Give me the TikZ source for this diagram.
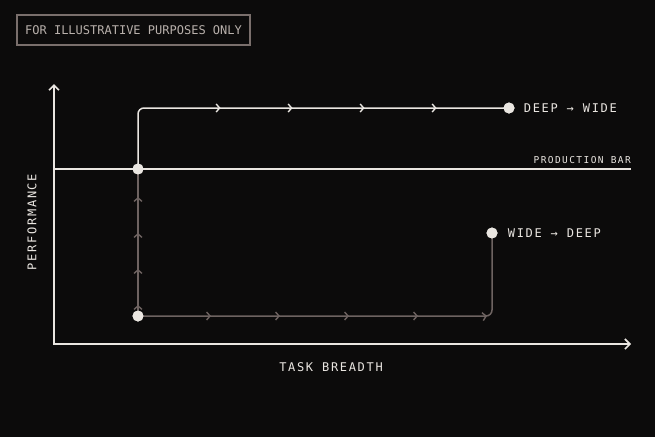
\documentclass[tikz,border=0pt]{standalone}
\usepackage{fontspec}
\setmonofont{DejaVu Sans Mono}
\newfontfamily\lblfont[LetterSpace=14]{DejaVu Sans Mono}
\newfontfamily\smallfont[LetterSpace=15]{DejaVu Sans Mono}
\newfontfamily\boxfont{DejaVu Sans Mono}
\usetikzlibrary{arrows.meta,decorations.markings}
\definecolor{bg}{HTML}{0C0B0B}
\definecolor{ink}{HTML}{EAE6E1}
\definecolor{dim}{HTML}{6E6361}
\definecolor{boxline}{HTML}{7A6F6C}
\definecolor{boxtext}{HTML}{B9B1AC}
\begin{document}
\begin{tikzpicture}[x=1pt,y=-1pt,
  axis/.style={draw=ink,line width=1.8pt,{Straight Barb[length=5pt,width=10pt,line width=1.6pt]}-{Straight Barb[length=5pt,width=10pt,line width=1.6pt]}},
  barline/.style={draw=ink,line width=1.4pt},
  dot/.style={circle,fill=ink,minimum size=11pt,inner sep=0pt},
  lbl/.style={text=ink,font=\lblfont\fontsize{12}{14}\selectfont,inner sep=0pt},
  lblsmall/.style={text=ink,font=\smallfont\fontsize{9.5}{11}\selectfont,inner sep=0pt},
  bright/.style={draw=ink,line width=1.5pt,rounded corners=6pt},
  faint/.style={draw=dim,line width=1.5pt,rounded corners=6pt},
]
\fill[bg] (0,0) rectangle (655,437);
\useasboundingbox (0,0) rectangle (655,437);
% disclaimer box
\node[draw=boxline,line width=1.1pt,minimum width=233pt,minimum height=30pt,inner sep=0pt,
  text=boxtext,font=\boxfont\fontsize{12}{14}\selectfont] (note) at (133.5,30) {FOR ILLUSTRATIVE PURPOSES ONLY};
% axes
\coordinate (ytop) at (54,84);
\coordinate (o) at (54,344);
\coordinate (xend) at (631,344);
\draw[axis] (ytop) -- (o) -- (xend);
% production bar
\coordinate (pl) at (54,169);
\coordinate (pr) at (631,169);
\draw[barline] (pl) -- (pr);
\node[lblsmall,anchor=base east] (pbar) at (631,163) {PRODUCTION BAR};
% points
\node[dot] (s) at (138,316) {};
\node[dot] (b) at (138,169) {};
\node[dot] (dw) at (509,108) {};
\node[dot] (wd) at (492,233) {};
% paths
\draw[faint,postaction={decorate},decoration={markings,
  mark=at position 11pt with {\arrow[dim]{Straight Barb[length=3.5pt,width=8pt,line width=1.4pt]}},
  mark=at position 47pt with {\arrow[dim]{Straight Barb[length=3.5pt,width=8pt,line width=1.4pt]}},
  mark=at position 83pt with {\arrow[dim]{Straight Barb[length=3.5pt,width=8pt,line width=1.4pt]}},
  mark=at position 119pt with {\arrow[dim]{Straight Barb[length=3.5pt,width=8pt,line width=1.4pt]}}}]
  (s.center) -- (b.center);
\draw[faint,postaction={decorate},decoration={markings,
  mark=at position 73pt with {\arrow[dim]{Straight Barb[length=3.5pt,width=8pt,line width=1.4pt]}},
  mark=at position 142pt with {\arrow[dim]{Straight Barb[length=3.5pt,width=8pt,line width=1.4pt]}},
  mark=at position 211pt with {\arrow[dim]{Straight Barb[length=3.5pt,width=8pt,line width=1.4pt]}},
  mark=at position 280pt with {\arrow[dim]{Straight Barb[length=3.5pt,width=8pt,line width=1.4pt]}},
  mark=at position 349pt with {\arrow[dim]{Straight Barb[length=3.5pt,width=8pt,line width=1.4pt]}}}]
  (s.center) -| (wd.center);
\draw[bright,postaction={decorate},decoration={markings,
  mark=at position 141pt with {\arrow[ink]{Straight Barb[length=3.5pt,width=8pt,line width=1.4pt]}},
  mark=at position 213pt with {\arrow[ink]{Straight Barb[length=3.5pt,width=8pt,line width=1.4pt]}},
  mark=at position 285pt with {\arrow[ink]{Straight Barb[length=3.5pt,width=8pt,line width=1.4pt]}},
  mark=at position 357pt with {\arrow[ink]{Straight Barb[length=3.5pt,width=8pt,line width=1.4pt]}}}]
  (b.center) |- (dw.center);
% redraw dots on top
\node[dot] at (s) {};
\node[dot] at (b) {};
\node[dot] at (dw) {};
\node[dot] at (wd) {};
% labels
\node[lbl,anchor=west] (dwl) at ([xshift=9pt]dw.east) {DEEP → WIDE};
\node[lbl,anchor=west] (wdl) at ([xshift=10pt]wd.east) {WIDE → DEEP};
\node[lbl] (xl) at (331,367) {TASK BREADTH};
\node[lbl,rotate=90] (yl) at (32,222) {PERFORMANCE};
\end{tikzpicture}
\end{document}
